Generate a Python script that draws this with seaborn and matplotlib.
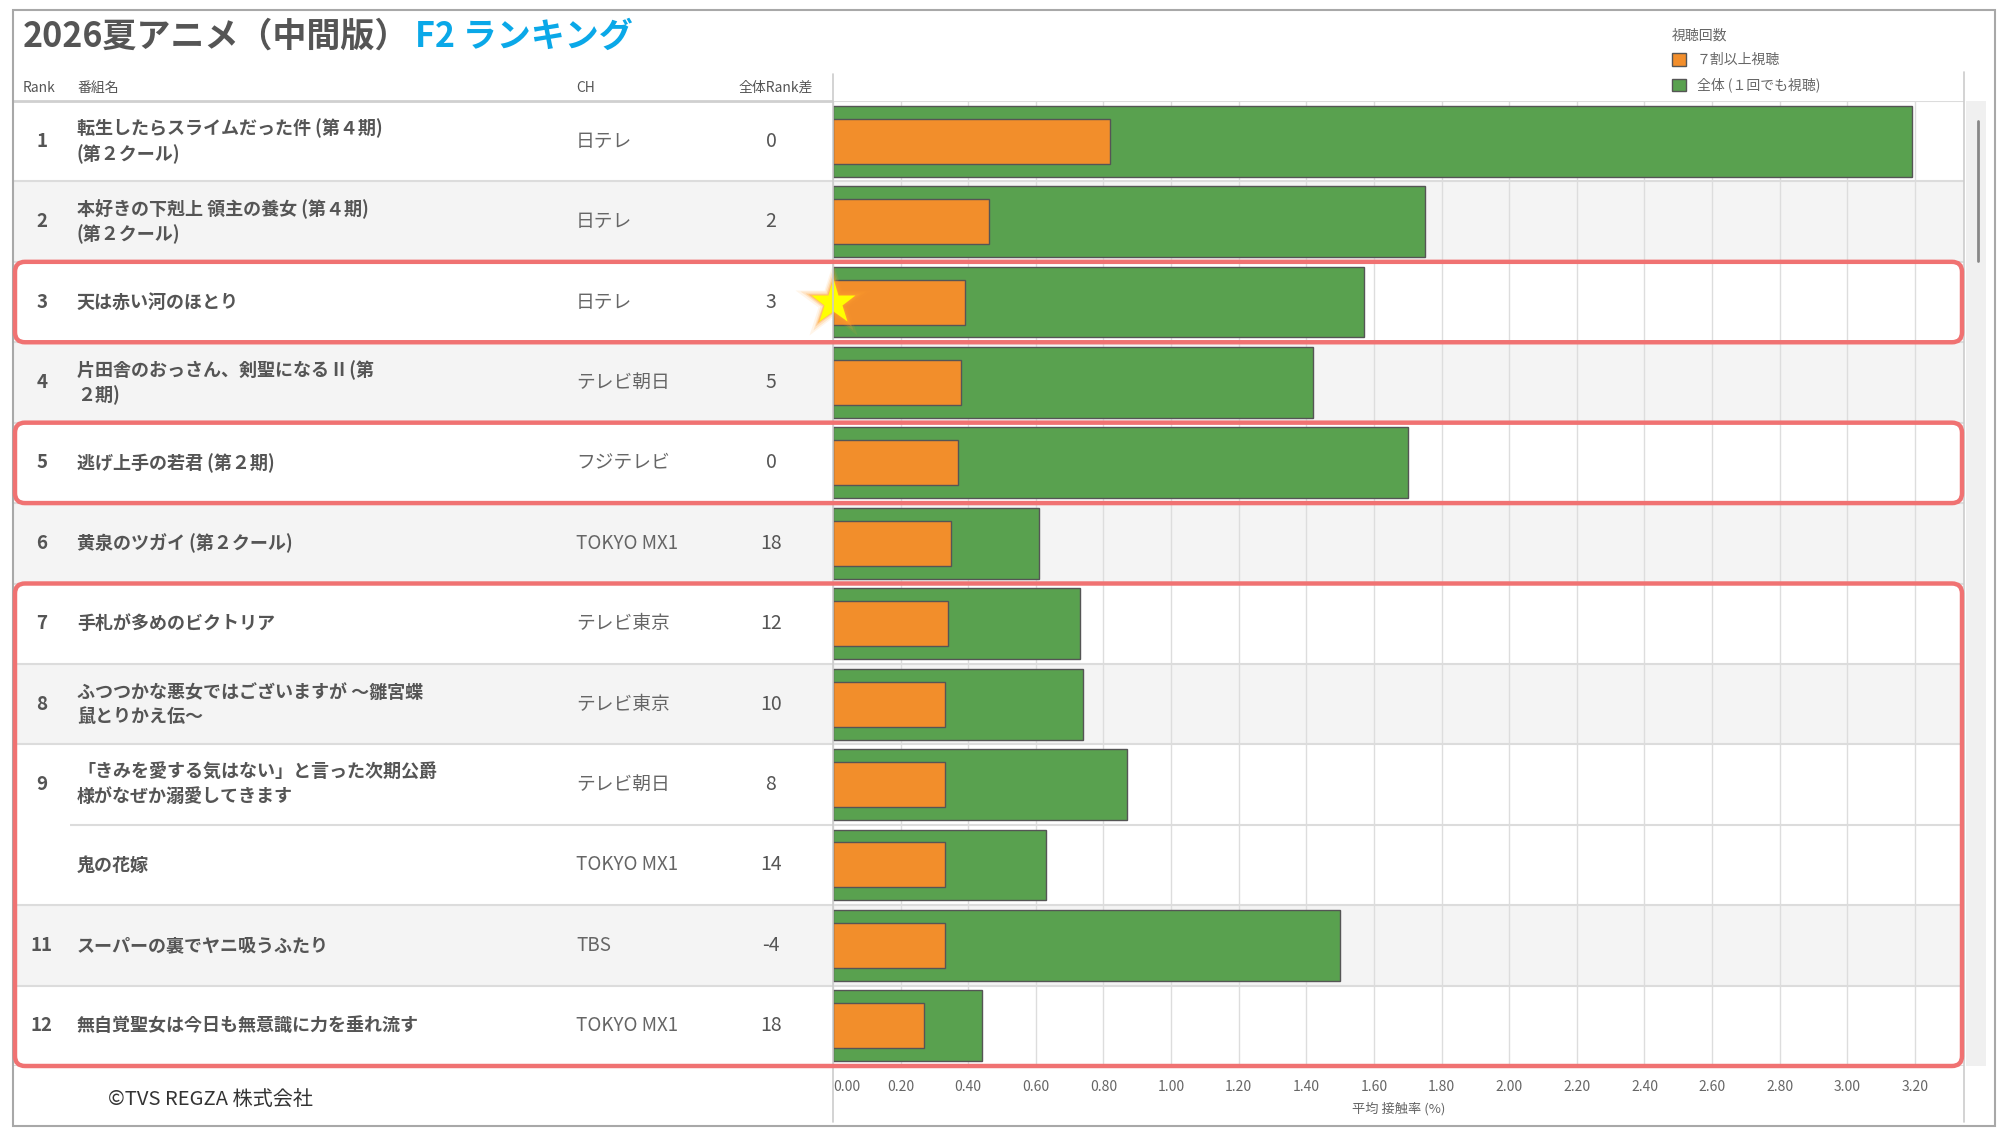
import matplotlib
matplotlib.use("Agg")
import matplotlib.pyplot as plt
import seaborn as sns
import pandas as pd
import numpy as np
from matplotlib.patches import Rectangle, FancyBboxPatch, Patch
from matplotlib.lines import Line2D
from matplotlib.transforms import IdentityTransform

# ---- data ----
rank_no = [1, 2, 3, 4, 5, 6, 7, 8, 9, 9, 11, 12]
titles = [
    "転生したらスライムだった件 (第４期)\n(第２クール)",
    "本好きの下剋上 領主の養女 (第４期)\n(第２クール)",
    "天は赤い河のほとり",
    "片田舎のおっさん、剣聖になる II (第\n２期)",
    "逃げ上手の若君 (第２期)",
    "黄泉のツガイ (第２クール)",
    "手札が多めのビクトリア",
    "ふつつかな悪女ではございますが ～雛宮蝶\n鼠とりかえ伝～",
    "「きみを愛する気はない」と言った次期公爵\n様がなぜか溺愛してきます",
    "鬼の花嫁",
    "スーパーの裏でヤニ吸うふたり",
    "無自覚聖女は今日も無意識に力を垂れ流す",
]
channels = ["日テレ", "日テレ", "日テレ", "テレビ朝日", "フジテレビ", "TOKYO MX1",
            "テレビ東京", "テレビ東京", "テレビ朝日", "TOKYO MX1", "TBS", "TOKYO MX1"]
rank_diff = [0, 2, 3, 5, 0, 18, 12, 10, 8, 14, -4, 18]
total_rate = [3.19, 1.75, 1.57, 1.42, 1.70, 0.61, 0.73, 0.74, 0.87, 0.63, 1.50, 0.44]
high_rate = [0.82, 0.46, 0.39, 0.38, 0.37, 0.35, 0.34, 0.33, 0.33, 0.33, 0.33, 0.27]
highlights = [(2, 2), (4, 4), (6, 11)]
star_row = 2
xticks = [0.00, 0.20, 0.40, 0.60, 0.80, 1.00, 1.20, 1.40, 1.60, 1.80,
          2.00, 2.20, 2.40, 2.60, 2.80, 3.00, 3.20]

GREEN = "#59a14f"
ORANGE = "#f28e2b"
EDGE = "#555555"
BAND = "#f4f4f4"
TXT = "#555555"

sns.set_style("white")
plt.rcParams["font.family"] = ["Noto Sans CJK JP", "DejaVu Sans"]

W, H = 1999, 1128
fig = plt.figure(figsize=(W / 100, H / 100), dpi=100)


def fx(px):
    return px / W


def fy(py):
    return 1 - py / H


top_px, bot_px = 101, 1066
left_px, split_px, right_px = 13, 833, 1964
ax = fig.add_axes([fx(split_px), fy(bot_px), (right_px - split_px) / W, (bot_px - top_px) / H])
axt = fig.add_axes([fx(left_px), fy(bot_px), (split_px - left_px) / W, (bot_px - top_px) / H])

df = pd.DataFrame({"name": titles, "total": total_rate, "high": high_rate})
n = len(df)

sns.barplot(data=df, x="total", y="name", color=GREEN, saturation=1, width=0.88,
            errorbar=None, edgecolor=EDGE, linewidth=1, ax=ax)
sns.barplot(data=df, x="high", y="name", color=ORANGE, saturation=1, width=0.56,
            errorbar=None, edgecolor=EDGE, linewidth=1, ax=ax)

ax.set_ylim(n - 0.5, -0.5)
ax.set_xlim(0, 3.345)
ax.set_yticks([])
ax.set_ylabel("")
ax.set_xticks(xticks)
ax.set_xticklabels([f"{v:.2f}" for v in xticks])
ax.get_xticklabels()[0].set_ha("left")
ax.tick_params(axis="x", length=0, pad=10, labelsize=10, labelcolor="#666666")
ax.set_xlabel("平均 接触率 (%)", fontsize=9.5, color="#666666", labelpad=6)
ax.grid(axis="x", color="#dddddd", lw=1)
ax.set_axisbelow(True)
for s in ax.spines.values():
    s.set_visible(False)

axt.set_xlim(left_px, split_px)
axt.set_ylim(n - 0.5, -0.5)
axt.axis("off")

# row banding by rank group
group = 0
for i in range(n):
    if i > 0 and rank_no[i] != rank_no[i - 1]:
        group += 1
    if group % 2 == 1:
        for a in (ax, axt):
            a.axhspan(i - 0.5, i + 0.5, color=BAND, zorder=0.1, lw=0)

# row separators
for i in range(n + 1):
    y = i - 0.5
    tied = 0 < i < n and rank_no[i] == rank_no[i - 1]
    ax.axhline(y, color="#dcdcdc", lw=1.5, zorder=0.6)
    axt.hlines(y, 70 if tied else left_px, split_px, color="#dcdcdc", lw=1.5, zorder=0.6)

# table text
for i in range(n):
    if i == 0 or rank_no[i] != rank_no[i - 1]:
        axt.text(42, i, str(rank_no[i]), ha="center", va="center", fontsize=13.5,
                 weight="bold", color=TXT)
    axt.text(77, i, titles[i], ha="left", va="center", fontsize=13, weight="bold",
             color=TXT, linespacing=1.35)
    axt.text(576, i, channels[i], ha="left", va="center", fontsize=13.5, color="#666666")
    axt.text(771, i, str(rank_diff[i]), ha="center", va="center", fontsize=14, color=TXT)

hy = -0.5 - (top_px - 88) / ((bot_px - top_px) / n)
for x, s, ha in [(23, "Rank", "left"), (77, "番組名", "left"), (576, "CH", "left"),
                 (813, "全体Rank差", "right")]:
    axt.text(x, hy, s, ha=ha, va="center", fontsize=10, color=TXT, clip_on=False)
axt.hlines(-0.5, left_px, split_px, color="#d0d0d0", lw=2, clip_on=False)

# star marker on highlighted title, with a soft orange glow
for ms, a in [(58, 0.10), (50, 0.18), (43, 0.30), (38, 0.45)]:
    ax.plot(0, star_row, marker="*", ms=ms, color="#ffa030", alpha=a, mec="none",
            clip_on=False, zorder=9)
ax.plot(0, star_row, marker="*", ms=34, color="#ffff00", mec="none", clip_on=False, zorder=10)

# pane borders, scrollbar, frame
fig.add_artist(Line2D([split_px, split_px], [H - 74, H - 1122], transform=IdentityTransform(),
                      color="#cccccc", lw=1.2))
fig.add_artist(Line2D([right_px, right_px], [H - 72, H - 1122], transform=IdentityTransform(),
                      color="#cccccc", lw=1.2))
fig.add_artist(Rectangle((right_px + 2, H - bot_px), 20, bot_px - top_px,
                         transform=IdentityTransform(), color="#f0f0f0", lw=0))
fig.add_artist(Line2D([1978, 1978], [H - 121, H - 261], transform=IdentityTransform(),
                      color="#888888", lw=2))
fig.add_artist(Rectangle((13, H - 1126), 1982, 1116, transform=IdentityTransform(),
                         fill=False, ec="#a8a8a8", lw=1.5))

# highlight boxes
for r0, r1 in highlights:
    y_top = ax.transData.transform((0, r0 - 0.5))[1]
    y_bot = ax.transData.transform((0, r1 + 0.5))[1]
    box = FancyBboxPatch((15, y_bot), right_px - 2 - 15, y_top - y_bot,
                         boxstyle="round,pad=0,rounding_size=10", transform=IdentityTransform(),
                         fill=False, ec="#f07272", lw=3.2, zorder=20)
    fig.add_artist(box)

# title
t1 = fig.text(fx(23), fy(36), "2026夏アニメ（中間版）", fontsize=24.5, weight="bold",
              color="#555555", va="center", ha="left")
fig.canvas.draw()
bb = t1.get_window_extent(fig.canvas.get_renderer())
fig.text((bb.x1 + 6) / W, fy(36), "F2 ランキング", fontsize=24.5, weight="bold",
         color="#0aa8e8", va="center", ha="left")

# legend
handles = [Patch(facecolor=ORANGE, edgecolor=EDGE, label="７割以上視聴"),
           Patch(facecolor=GREEN, edgecolor=EDGE, label="全体 (１回でも視聴)")]
leg = fig.legend(handles=handles, title="視聴回数", loc="upper left",
                 bbox_to_anchor=(fx(1665), fy(22)), frameon=False, fontsize=10,
                 title_fontsize=10, alignment="left", handlelength=1.0, handleheight=1.0,
                 handletextpad=0.8, labelspacing=0.75, borderpad=0, labelcolor="#666666")
leg.get_title().set_color("#666666")

fig.text(fx(108), fy(1099), "©TVS REGZA 株式会社", fontsize=14.5, color="#333333",
         va="center", ha="left")

fig.savefig("out.png", dpi=100)
